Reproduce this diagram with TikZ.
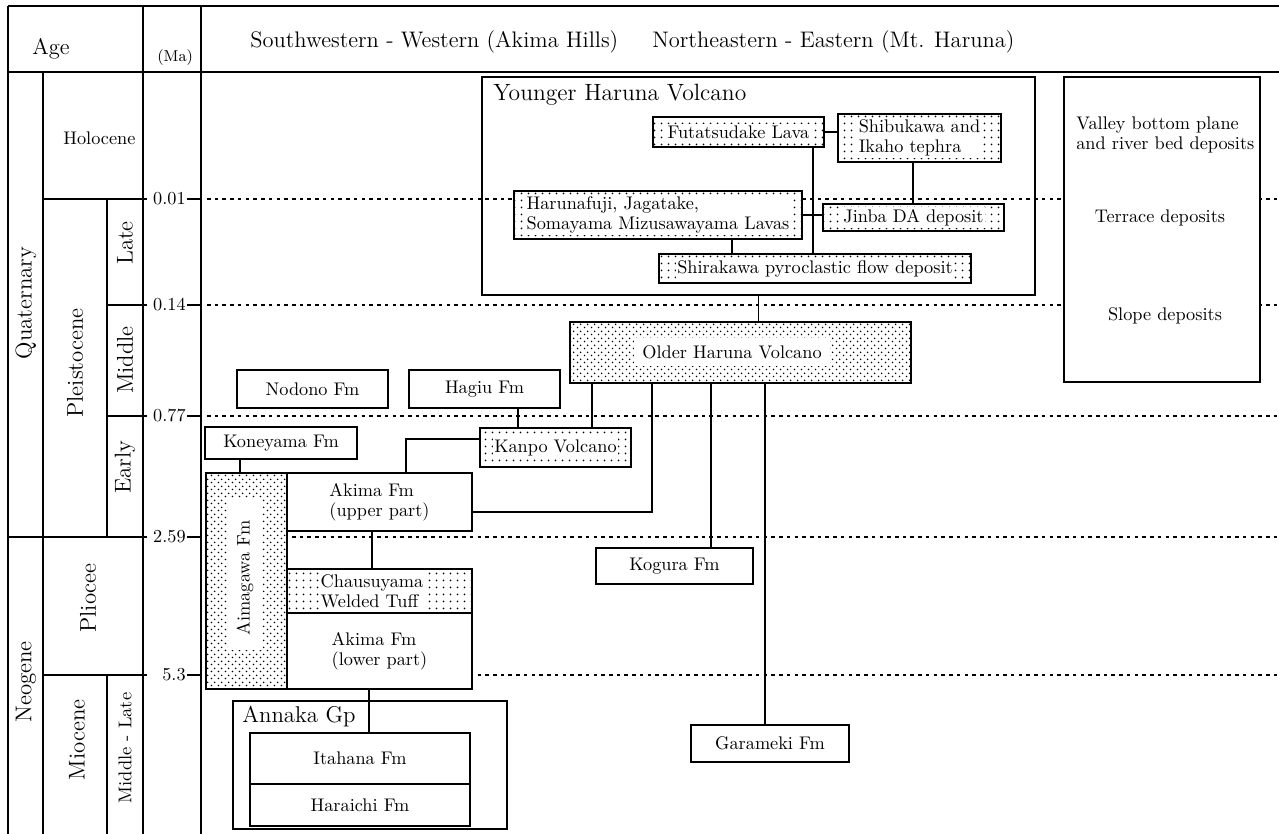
\documentclass[tikz,border=0pt]{standalone}
\usepackage{fontspec}
\usepackage{tikz}
\usetikzlibrary{positioning,fit,patterns}

% dot screens for the volcanic units
\pgfdeclarepatternformonly{sparse dots}{\pgfpointorigin}{\pgfqpoint{4pt}{4pt}}{\pgfqpoint{4pt}{4pt}}{%
  \pgfpathcircle{\pgfqpoint{1pt}{1pt}}{0.6pt}\pgfusepath{fill}}
\pgfdeclarepatternformonly{dense dots}{\pgfpointorigin}{\pgfqpoint{4pt}{4pt}}{\pgfqpoint{4pt}{4pt}}{%
  \pgfpathcircle{\pgfqpoint{1pt}{1pt}}{0.55pt}%
  \pgfpathcircle{\pgfqpoint{3pt}{3pt}}{0.55pt}\pgfusepath{fill}}

\begin{document}
\begin{tikzpicture}[x=0.02cm,y=-0.02cm,
  font=\fontsize{10.4}{11.5}\selectfont,
  rule/.style={line width=1.05pt},
  timeline/.style={line width=0.8pt,dash pattern=on 2pt off 2.4pt},
  unit/.style={draw,line width=0.95pt,fill=white,inner sep=0pt},
  group/.style={draw,line width=0.95pt,inner sep=0pt},
  tuff/.style={draw,line width=0.95pt,inner sep=0pt,preaction={fill=white},pattern=sparse dots},
  lava/.style={draw,line width=0.95pt,inner sep=0pt,preaction={fill=white},pattern=dense dots},
  patch/.style={fill=white,inner sep=1pt},
  link/.style={line width=0.8pt},
  headtxt/.style={anchor=base west,inner sep=0pt,font=\fontsize{12.8}{14}\selectfont},
  rottxt/.style={rotate=90,font=\fontsize{13}{15}\selectfont}]
\useasboundingbox (0,0) rectangle (1279,834);

% age table
\draw[rule] (8,6) -- (1279,6);
\draw[rule] (8,72) -- (1279,72);
\draw[rule] (8,6) -- (8,834);
\draw[rule] (43,72) -- (43,834);
\draw[rule] (143,6) -- (143,834);
\draw[rule] (201,6) -- (201,834);
\draw[rule] (107,199) -- (107,537) (107,675) -- (107,834);
\draw[rule] (43,199) -- (147,199) (107,305) -- (147,305) (107,416) -- (147,416)
  (8,537) -- (147,537) (43,675) -- (147,675);
\foreach \y/\ma [count=\i] in {199/0.01,305/0.14,416/0.77,537/2.59,675/5.3}{
  \draw[rule] (187,\y) -- (201,\y);
  \draw[timeline] (207,\y) -- (1279,\y);
  \node[anchor=east,inner sep=0pt] (ma\i) at (186,\y) {\ma};
}

\node[headtxt] (agehead) at (32,55) {Age};
\node[anchor=base west,inner sep=0pt,font=\fontsize{9}{10}\selectfont] (mahead) at (157,62) {(Ma)};
\node[headtxt] (swhead) at (250,48) {Southwestern - Western (Akima Hills)};
\node[headtxt] (nehead) at (652,48) {Northeastern - Eastern (Mt. Haruna)};

\node[rottxt] (quat) at (26,303) {Quaternary};
\node[rottxt] (neog) at (26,682) {Neogene};
\node[anchor=base west,inner sep=0pt] (holo) at (63,145) {Holocene};
\node[rottxt] (pleis) at (75,363) {Pleistocene};
\node[rottxt] (late) at (125,243) {Late};
\node[rottxt] (middle) at (125,360) {Middle};
\node[rottxt] (early) at (125,467) {Early};
\node[rottxt] (plio) at (88,598) {Pliocee};
\node[rottxt] (mio) at (77,740) {Miocene};
\node[rotate=90,font=\fontsize{10.5}{12}\selectfont] (midlate) at (125,748) {Middle - Late};

% Younger Haruna Volcano
\node[group,fit={(482,77) (1035,295)}] (younger) {};
\node[headtxt,font=\fontsize{13.4}{15}\selectfont] (youngerT) at (493,101) {Younger Haruna Volcano};
\node[tuff,fit={(653,117) (824,147)}] (futa) {};
\node[patch] (futaT) at (futa) {Futatsudake Lava};
\node[tuff,fit={(838,114) (1001,162)}] (shibu) {};
\node[patch,align=left] (shibuT) at (shibu) {Shibukawa and\\Ikaho tephra};
\node[tuff,fit={(514,191) (802,239)}] (haruna) {};
\node[patch,align=left] (harunaT) at (haruna) {Harunafuji, Jagatake,\\Somayama Mizusawayama Lavas};
\node[tuff,fit={(823,204) (1004,231)}] (jinba) {};
\node[patch] (jinbaT) at (jinba) {Jinba DA deposit};
\node[tuff,fit={(659,254) (971,283)}] (shira) {};
\node[patch] (shiraT) at (shira) {Shirakawa pyroclastic flow deposit};

% Older Haruna Volcano
\node[lava,fit={(570,322) (911,383)}] (older) {};
\node[patch,inner xsep=5pt,inner ysep=4pt] (olderT) at (732,352) {Older Haruna Volcano};

% deposits
\node[unit,fit={(1064,77) (1260,382)}] (valley) {};
\node[anchor=north west,inner sep=0pt,align=left] (valleyT) at (1076,116) {Valley bottom plane\\and river bed deposits};
\node (terrace) at (1160,218) {Terrace deposits};
\node (slope) at (1165,316) {Slope deposits};

% Akima Hills
\node[unit,fit={(237,370) (388,408)}] (nodono) {};
\node (nodonoT) at (nodono) {Nodono Fm};
\node[unit,fit={(409,370) (560,408)}] (hagiu) {};
\node (hagiuT) at (hagiu) {Hagiu Fm};
\node[tuff,fit={(480,428) (631,467)}] (kanpo) {};
\node[patch] (kanpoT) at (kanpo) {Kanpo Volcano};
\node[unit,fit={(205,427) (357,459)}] (koneyama) {};
\node (koneyamaT) at (koneyama) {Koneyama Fm};
\node[lava,fit={(206,473) (287,689)}] (aima) {};
\node[fill=white,inner sep=0pt,fit={(228,498) (262,650)}] (aimaIn) {};
\node[rotate=90] (aimaT) at (245,578) {Aimagawa Fm};
\node[unit,fit={(287,473) (472,531)}] (akimaU) {};
\node[align=left] (akimaUT) at (akimaU) {Akima Fm\\(upper part)};
\node[tuff,fit={(287,569) (472,613)}] (chausu) {};
\node[patch,align=left] (chausuT) at (372,591) {Chausuyama\\Welded Tuff};
\node[unit,fit={(287,613) (472,689)}] (akimaL) {};
\node[align=left] (akimaLT) at (akimaL) {Akima Fm\\(lower part)};
\node[group,fit={(233,701) (507,829)}] (annaka) {};
\node[headtxt,font=\fontsize{13}{15}\selectfont] (annakaT) at (242,723) {Annaka Gp};
\node[unit,fit={(250,733) (470,784)}] (itahana) {};
\node (itahanaT) at (itahana) {Itahana Fm};
\node[unit,fit={(250,784) (470,826)}] (haraichi) {};
\node (haraichiT) at (haraichi) {Haraichi Fm};
\node[unit,fit={(596,548) (753,584)}] (kogura) {};
\node (koguraT) at (kogura) {Kogura Fm};
\node[unit,fit={(691,725) (849,762)}] (garameki) {};
\node (garamekiT) at (garameki) {Garameki Fm};

% links
\draw[link] (futa.east) -- (futa.east -| shibu.west);
\draw[link] (shibu.south -| 913,0) -- (jinba.north -| 913,0);
\draw[link] (haruna.east) -- (haruna.east -| jinba.west);
\draw[link] (haruna.south -| 732,0) -- (shira.north -| 732,0);
\draw[link] (futa.south -| 813,0) -- (shira.north -| 813,0);
\draw[link] (younger.south) -- (younger.south |- older.north);
\draw[link] (older.south -| 592,0) -- (kanpo.north -| 592,0);
\draw[link] (older.south -| 652,0) |- (akimaU.east |- 0,512);
\draw[link] (older.south -| 711,0) -- (kogura.north -| 711,0);
\draw[link] (older.south -| 765,0) -- (garameki.north -| 765,0);
\draw[link] (hagiu.south -| 518,0) -- (kanpo.north -| 518,0);
\draw[link] (kanpo.west |- 0,439) -| (akimaU.north -| 406,0);
\draw[link] (koneyama.south -| 240,0) -- (aima.north -| 240,0);
\draw[link] (akimaU.south -| 372,0) -- (chausu.north -| 372,0);
\draw[link] (akimaL.south -| 369,0) -- (itahana.north -| 369,0);
\end{tikzpicture}
\end{document}
